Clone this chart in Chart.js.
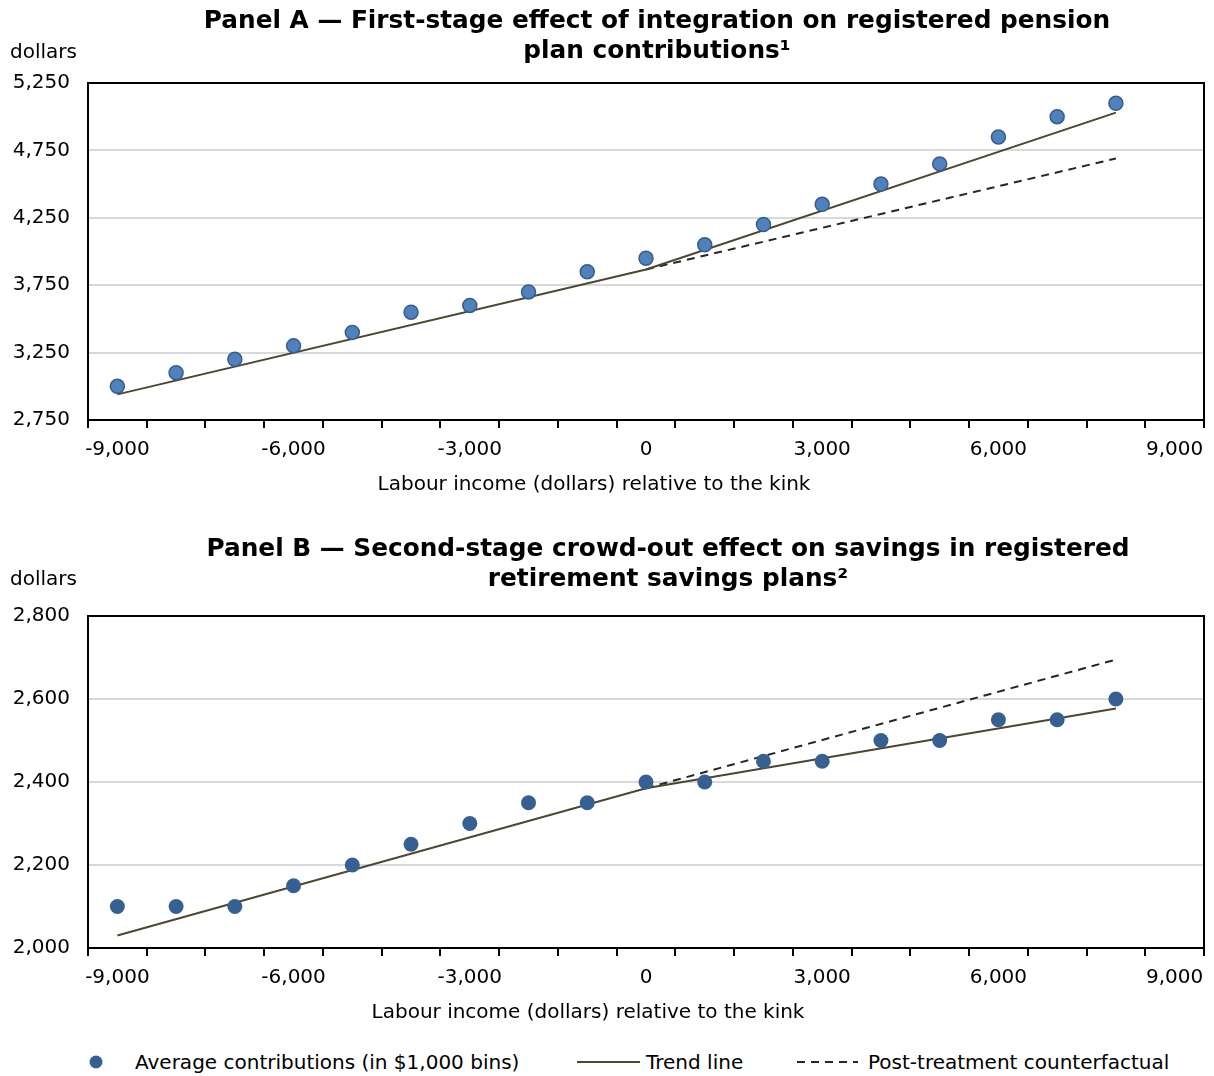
<!DOCTYPE html>
<html>
<head>
<meta charset="utf-8">
<script src="https://cdn.jsdelivr.net/npm/chart.js@4.4.1/dist/chart.umd.min.js"></script>
<style>
html,body{margin:0;padding:0;background:#fff;overflow:hidden;}
#wrap{position:relative;width:1214px;height:1076px;font-family:"DejaVu Sans",Verdana,sans-serif;color:#000;}
#cA{position:absolute;left:0;top:0;}
#cB{position:absolute;left:0;top:500px;}
.lg{position:absolute;top:1050px;font-size:20px;line-height:24px;white-space:nowrap;}
.sw{position:absolute;}
</style>
</head>
<body>
<div id="wrap">
<canvas id="cA" width="1214" height="500"></canvas>
<canvas id="cB" width="1214" height="528"></canvas>
<svg class="sw" style="left:89px;top:1055px" width="14" height="14"><circle cx="7" cy="7" r="6.5" fill="#376092"/></svg>
<span class="lg" style="left:135px">Average contributions (in $1,000 bins)</span>
<svg class="sw" style="left:577px;top:1057px" width="64" height="10"><line x1="0" y1="5" x2="63" y2="5" stroke="#4d4630" stroke-width="2"/></svg>
<span class="lg" style="left:646px">Trend line</span>
<svg class="sw" style="left:797px;top:1057px" width="62" height="10"><line x1="0" y1="5" x2="61" y2="5" stroke="#262626" stroke-width="2" stroke-dasharray="8,6"/></svg>
<span class="lg" style="left:868px">Post-treatment counterfactual</span>
</div>
<script>
// ---- data ----
const binCenters = [-9000,-8000,-7000,-6000,-5000,-4000,-3000,-2000,-1000,0,1000,2000,3000,4000,5000,6000,7000,8000];
const panelAContrib = [3000,3100,3200,3300,3400,3550,3600,3700,3850,3950,4050,4200,4350,4500,4650,4850,5000,5100];
const panelBContrib = [2100,2100,2100,2150,2200,2250,2300,2350,2350,2400,2400,2450,2450,2500,2500,2550,2550,2600];
const trendX = [-9000, 0, 8000];
const panelATrend = [2940, 3867, 5030];
const panelBTrend = [2030, 2385, 2577];
const counterX = [0, 8000];
const panelACounter = [3867, 4690];
const panelBCounter = [2385, 2695];
const xTickLabels = [-9000,-6000,-3000,0,3000,6000,9000];
const xTickMarks = [-9500,-8500,-7500,-6500,-5500,-4500,-3500,-2500,-1500,-500,500,1500,2500,3500,4500,5500,6500,7500,8500,9500];
const panelAYTicks = [2750,3250,3750,4250,4750,5250];
const panelBYTicks = [2000,2200,2400,2600,2800];
const panelATitle = ['Panel A \u2014 First-stage effect of integration on registered pension', 'plan contributions\u00B9'];
const panelBTitle = ['Panel B \u2014 Second-stage crowd-out effect on savings in registered', 'retirement savings plans\u00B2'];
const xAxisTitle = 'Labour income (dollars) relative to the kink';
const unitText = 'dollars';

// ---- helpers ----
const FONT = '"DejaVu Sans", Verdana, sans-serif';
Chart.defaults.font.family = FONT;
Chart.defaults.font.size = 20;
Chart.defaults.color = '#000';
const fmt = v => Number(v).toLocaleString('en-US');
const pts = (xs, ys) => xs.map((x, i) => ({x: x, y: ys[i]}));
const allXTicks = xTickMarks.concat(xTickLabels).sort((a, b) => a - b);

const frame = {
  id: 'frame',
  beforeDatasetsDraw(chart) {
    const a = chart.chartArea, c = chart.ctx;
    c.save(); c.strokeStyle = '#000'; c.lineWidth = 2;
    c.strokeRect(a.left, a.top, a.right - a.left, a.bottom - a.top);
    c.restore();
  }
};
// panel title, unit label and axis title, placed as in the original figure
const texts = {
  id: 'texts',
  afterDraw(chart, args, o) {
    const c = chart.ctx;
    c.save(); c.fillStyle = '#000'; c.textBaseline = 'middle';
    c.font = 'bold 24.8px ' + FONT; c.textAlign = 'center';
    o.title.forEach((t, i) => c.fillText(t, o.titleX, o.titleY + i * 30));
    c.font = '20px ' + FONT; c.textAlign = 'left';
    c.fillText(o.unit, 10, o.unitY);
    c.textAlign = 'center';
    c.fillText(o.axisTitle, o.axisX, chart.chartArea.bottom + 65);
    c.restore();
  }
};

function makeChart(id, cfg) {
  return new Chart(document.getElementById(id), {
    type: 'scatter',
    data: {
      datasets: [
        {label: 'Average contributions (in $1,000 bins)', data: pts(binCenters, cfg.contrib),
         backgroundColor: cfg.pointFill, borderColor: cfg.pointBorder, borderWidth: cfg.pointBorderWidth,
         pointRadius: cfg.pointRadius, pointHoverRadius: cfg.pointRadius},
        {label: 'Trend line', data: pts(trendX, cfg.trend), showLine: true, borderColor: '#4d4630',
         borderWidth: 2, pointRadius: 0, pointHoverRadius: 0, fill: false},
        {label: 'Post-treatment counterfactual', data: pts(counterX, cfg.counter), showLine: true,
         borderColor: '#262626', borderWidth: 2, borderDash: [8, 6], pointRadius: 0, pointHoverRadius: 0, fill: false}
      ]
    },
    options: {
      responsive: false, animation: false, events: [],
      layout: {padding: {left: 0, right: 9, top: cfg.padTop, bottom: 0}},
      plugins: {
        legend: {display: false}, tooltip: {enabled: false}, title: {display: false},
        texts: {title: cfg.title, titleX: cfg.titleX, titleY: cfg.titleY, unit: unitText, unitY: cfg.unitY,
                axisTitle: xAxisTitle, axisX: cfg.axisX}
      },
      scales: {
        x: {
          type: 'linear', min: -9500, max: 9500,
          afterBuildTicks: s => { s.ticks = allXTicks.map(v => ({value: v})); },
          ticks: {autoSkip: false, maxRotation: 0, minRotation: 0, padding: 10, color: '#000',
                  callback: v => xTickLabels.includes(v) ? fmt(v) : ''},
          grid: {drawOnChartArea: false, drawTicks: true, tickLength: 8, lineWidth: 2,
                 color: c => (c.tick && xTickMarks.includes(c.tick.value)) ? '#000' : 'rgba(0,0,0,0)'},
          border: {display: true, color: '#000', width: 2},
          title: {display: false},
          afterFit: s => { s.height = 80; }
        },
        y: {
          type: 'linear', min: cfg.yTicks[0], max: cfg.yTicks[cfg.yTicks.length - 1],
          afterBuildTicks: s => { s.ticks = cfg.yTicks.map(v => ({value: v})); },
          ticks: {padding: 18, color: '#000', callback: v => fmt(v)},
          grid: {color: '#d9d9d9', lineWidth: 2, drawTicks: false},
          border: {display: true, color: '#000', width: 2},
          afterFit: s => { s.width = 88; }
        }
      }
    },
    plugins: [frame, texts]
  });
}

makeChart('cA', {contrib: panelAContrib, trend: panelATrend, counter: panelACounter, yTicks: panelAYTicks,
  title: panelATitle, padTop: 83, titleX: 657, titleY: 22, unitY: 53, axisX: 594,
  pointFill: '#4f81bd', pointBorder: '#385d8a', pointBorderWidth: 1.5, pointRadius: 7});
makeChart('cB', {contrib: panelBContrib, trend: panelBTrend, counter: panelBCounter, yTicks: panelBYTicks,
  title: panelBTitle, padTop: 116, titleX: 668, titleY: 50, unitY: 80, axisX: 588,
  pointFill: '#376092', pointBorder: '#376092', pointBorderWidth: 0, pointRadius: 7.5});
</script>
</body>
</html>
